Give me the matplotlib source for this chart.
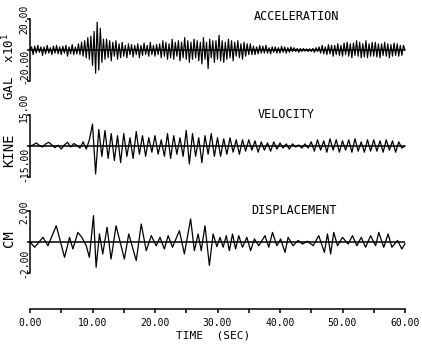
import numpy as np
import matplotlib
matplotlib.use("Agg")
import matplotlib.pyplot as plt
from matplotlib.ticker import MultipleLocator, FormatStrFormatter

# ---------------- data ----------------
# acceleration, units of 10 gal, sampled every 0.25 s from 0 to 60 s
acc = [
    0, 2, -3, 2.5, -2, 3, -1.5, 2, -3.5, 2, -2.5, 3, -2, 1.5, -3, 2.5, -2, 3, -2.5, 2,
    -3, 2.5, -2, 3, -4, 2, -2.5, 3.5, -3, 2, -2.5, 4, -3, 5, -4, 6, -5, 8, -6, 9,
    -10, 12, -15, 18, -13, 14, -8, 7, -6, 7, -5, 6, -7, 5, -4, 6, -6, 4, -5, 5,
    -4, 3, -5, 4, -3, 3.5, -4.5, 3, -3, 4, -5, 3, -3.5, 4.5, -3, 3, -4, 5, -3, 3,
    -4, 3.5, -3, 4, -5, 6, -4, 5, -6, 4, -5, 7, -6, 5, -4, 6, -7, 5, -5, 8,
    -6, 6, -8, 5, -6, 7, -5, 6, -7, 5, -9, 8, -6, 5, -12, 7, -5, 6, -8, 6,
    -6, 9.5, -7, 6, -8, 5, -6, 7, -5, 6, -7, 5, -4, 6, -5, 4, -6, 5, -4, 4,
    -3, 4, -3, 2.5, -3, 2, -2.5, 3, -2, 2.5, -2, 3, -2, 1.5, -2.5, 2, -1.5, 2, -2, 1.5,
    -2, 2.5, -1.5, 2, -2, 1.5, -1.5, 2, -1, 1.5, -1, 1, -1.5, 1, -1, 1, -0.8, 0.8, -1, 0.8,
    -1, 1, -1.5, 1.5, -1, 2, -2, 3, -2.5, 2, -3, 3.5, -2.5, 3, -4, 3, -3, 4, -3.5, 3,
    -4, 4.5, -3, 5, -4, 4, -5, 4.5, -3.5, 6, -4, 5, -5, 4, -4.5, 6, -5, 4, -4, 5,
    -4, 5, -4.5, 4, -5, 4, -3.5, 5, -4, 4, -5, 3.5, -4, 4.5, -3.5, 4, -4, 3, -3.5, 3, 0,
]

# velocity, kine, sampled every 0.5 s from 0 to 60 s
vel = [
    0, 0.5, 1.5, 0.3, -0.5, 1.0, 1.8, 0.5, -0.8, 0.4,
    -1.5, 0.5, 1.8, -0.5, 1.2, 0.3, -1.0, 2.0, -1.5, 3.0,
    10.6, -13.5, 8, -5, 7.5, -6, 6, -7, 5, -8,
    6, -5, 4, -6, 7, -4, 5, -5, 4, -3,
    5, -4, 3, -5, 6, -6, 5, -4, 4, -5,
    7.5, -8.7, 6, -5, 4, -8, 5, -4, 6, -5,
    4, -5, 3.5, -4, 4, -3, 3, -4, 3, -2.5,
    3, -2, 2.5, -3, 2, -2, 1.5, -2.5, 2, -1.5,
    1.5, -1, 1, -1.5, 1, -0.5, 0.5, -1, 1, -1,
    2, -2.5, 3, -2, 2.5, -3, 3.5, -2, 3, -3,
    2.5, -2, 3, -3, 3.5, -2.5, 2, -3, 3, -2.5,
    3, -2.5, 2.5, -3, 3, -2, 2.5, -3, 2, -1, 0,
]

# displacement, cm: peak / trough times (s) and values
disp_t = [0, 0.74, 2.07, 2.87, 4.2, 5.53, 6.33, 6.86, 7.66, 8.3, 9.0, 9.5,
          10.16, 10.58, 11.11, 11.64, 12.33, 12.97, 13.77, 15.1, 15.8, 17.0,
          17.8, 18.6, 19.4, 20.2, 20.8, 21.5, 22.1, 22.8, 23.9, 24.7, 25.7,
          26.3, 26.9, 27.4, 28.0, 28.7, 29.3, 29.9, 30.4, 30.9, 31.4, 31.9,
          32.4, 32.9, 33.4, 34.0, 34.7, 35.3, 35.9, 36.6, 37.6, 38.2, 38.8,
          39.5, 40.1, 40.8, 41.3, 42.1, 42.9, 43.6, 44.4, 45.3, 46.2, 47.1,
          47.6, 48.1, 48.6, 49.2, 50.0, 50.9, 51.6, 52.3, 53.0, 53.7, 54.5,
          55.3, 55.8, 56.6, 57.3, 57.9, 58.8, 59.5, 60.0]
disp = [0, -0.34, 0.30, -0.24, 1.05, -0.99, 0.30, -0.45, 0.62, 0.30, -0.24, -0.99,
        1.70, -1.63, 0.52, -0.77, 0.95, -1.10, 1.05, -1.10, 0.52, -1.20,
        1.16, -0.56, 0.41, -0.24, 0.30, -0.45, 0.41, -0.34, 0.73, -0.77, 1.49,
        -0.56, 0.52, -0.56, 1.05, -1.51, 0.52, -0.30, 0.30, -0.34, 0.41, -0.56,
        0.52, -0.45, 0.41, -0.34, 0.30, -0.56, 0.20, -0.24, 0.41, -0.34, 0.62,
        -0.24, 0.20, -0.67, 0.30, -0.24, 0.10, -0.13, 0.05, -0.24, 0.41, -0.67,
        0.52, -0.77, 0.62, -0.24, 0.30, -0.13, 0.41, -0.24, 0.30, -0.34, 0.41,
        -0.24, 0.62, -0.34, 0.52, -0.34, 0.10, -0.45, -0.10]

titles = ["ACCELERATION", "VELOCITY", "DISPLACEMENT"]
limits = [20, 15, 2]
top_labels = ["20.00", "15.00", "2.00"]
bot_labels = ["-20.00", "-15.00", "-2.00"]
x_ticks = [0, 10, 20, 30, 40, 50, 60]

# ---------------- layout ----------------
W, H = 422, 345
fig = plt.figure(figsize=(W / 100, H / 100), dpi=100)
MONO = "DejaVu Sans Mono"


def rect(x0, x1, top, bot):
    return [x0 / W, 1 - bot / H, (x1 - x0) / W, (bot - top) / H]


def ftext(x, y, s, **kw):
    fig.text(x / W, 1 - y / H, s, family=MONO, ha="center", va="center", **kw)


X0, X1 = 30, 405
panels = [(19, 81), (115, 177), (211, 273)]
series = [
    (np.linspace(0, 60, len(acc)), acc, 0.85),
    (np.linspace(0, 60, len(vel)), vel, 0.9),
    (disp_t, disp, 0.9),
]

for (T, B), (tt, vv, lw), lim in zip(panels, series, limits):
    ax = fig.add_axes(rect(X0, X1, T, B))
    ax.set_xlim(0, 60)
    ax.set_ylim(-lim, lim)
    ax.plot(tt, vv, color="black", lw=lw, clip_on=False)
    ax.axhline(0, color="black", lw=1.1)
    for s in ("top", "right", "bottom"):
        ax.spines[s].set_visible(False)
    ax.spines["left"].set_linewidth(1.1)
    ax.set_xticks([])
    ax.set_yticks([-lim, 0, lim])
    ax.set_yticklabels([])
    ax.tick_params(axis="y", direction="out", length=2.5, width=1.1)
    ax.patch.set_visible(False)

# panel titles
ftext(297, 16, titles[0], fontsize=8.5)
ftext(286, 115, titles[1], fontsize=8.5)
ftext(294, 210, titles[2], fontsize=8.5)

# y tick labels (rotated)
ftext(24, 19, top_labels[0], fontsize=7, rotation=90)
ftext(24, 66, bot_labels[0], fontsize=7, rotation=90)
ftext(24, 107, top_labels[1], fontsize=7, rotation=90)
ftext(24, 164, bot_labels[1], fontsize=7, rotation=90)
ftext(24, 212, top_labels[2], fontsize=7, rotation=90)
ftext(24, 263, bot_labels[2], fontsize=7, rotation=90)

# unit labels
ftext(9, 66, r"GAL  x10$^{1}$", fontsize=9, rotation=90)
ftext(9, 150, "KINE", fontsize=10, rotation=90)
ftext(9, 239, "CM", fontsize=10, rotation=90)

# time axis
axt = fig.add_axes(rect(X0, X1, 300, 308.5))
axt.set_xlim(0, 60)
axt.set_ylim(0, 1)
for s in ("top", "right", "left"):
    axt.spines[s].set_visible(False)
axt.spines["bottom"].set_linewidth(1.1)
axt.set_yticks([])
axt.set_xticks(x_ticks)
axt.xaxis.set_minor_locator(MultipleLocator(5))
axt.xaxis.set_major_formatter(FormatStrFormatter("%.2f"))
axt.tick_params(axis="x", which="both", direction="out", length=3, width=1.1,
                pad=4, labelsize=7)
for lab in axt.get_xticklabels():
    lab.set_family(MONO)
axt.patch.set_visible(False)

ftext(213, 335, "TIME  (SEC)", fontsize=8)

fig.savefig("out.png", dpi=100)
